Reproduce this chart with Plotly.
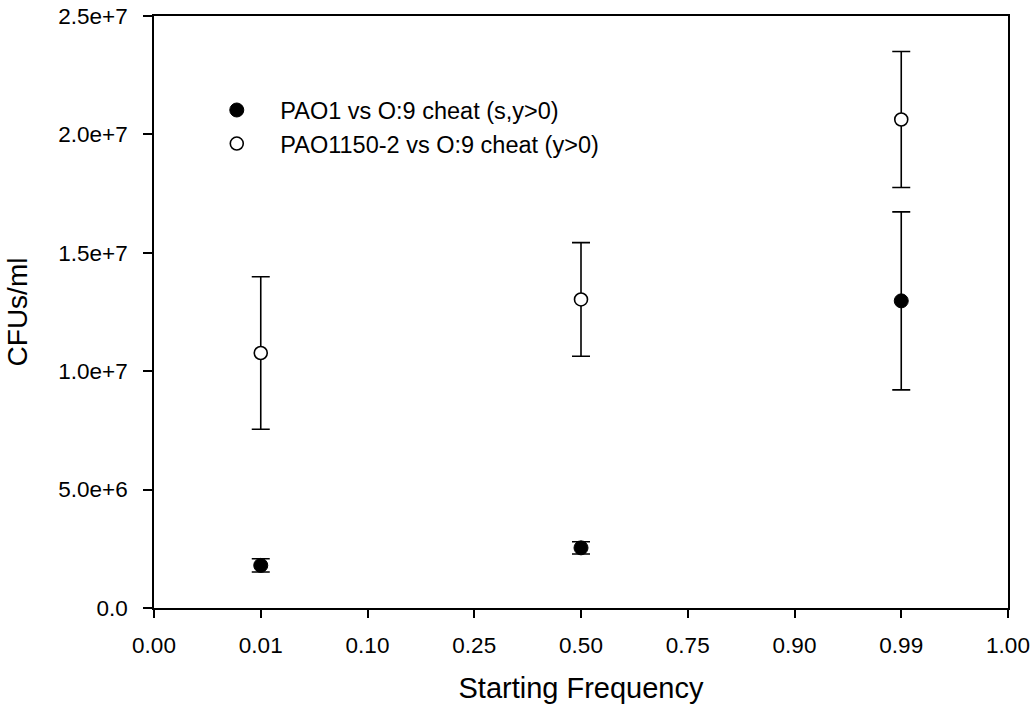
import plotly.graph_objects as go

tick_labels = ["0.00", "0.01", "0.10", "0.25", "0.50", "0.75", "0.90", "0.99", "1.00"]
freqs = ["0.01", "0.50", "0.99"]

pao1_mean = [1.80e6, 2.54e6, 1.297e7]
pao1_err = [2.8e5, 2.6e5, 3.76e6]

pao1150_mean = [1.077e7, 1.303e7, 2.063e7]
pao1150_err = [3.22e6, 2.40e6, 2.87e6]

font_family = "Liberation Sans, Arial, sans-serif"

fig = go.Figure()
fig.add_trace(go.Scatter(
    x=freqs, y=pao1_mean, mode="markers",
    name="PAO1 vs O:9 cheat (s,y>0)",
    marker=dict(symbol="circle", size=14, color="black", line=dict(color="black", width=1)),
    error_y=dict(type="data", array=pao1_err, visible=True, color="black", thickness=1.6, width=9),
))
fig.add_trace(go.Scatter(
    x=freqs, y=pao1150_mean, mode="markers",
    name="PAO1150-2 vs O:9 cheat (y>0)",
    marker=dict(symbol="circle", size=13, color="white", line=dict(color="black", width=1.6)),
    error_y=dict(type="data", array=pao1150_err, visible=True, color="black", thickness=1.6, width=9),
))

fig.update_layout(
    width=1033, height=707,
    margin=dict(l=154, r=25, t=16, b=99, autoexpand=False),
    paper_bgcolor="white", plot_bgcolor="white",
    font=dict(family=font_family, color="black", size=22),
    showlegend=True,
    legend=dict(
        x=0.046, y=0.878, xanchor="left", yanchor="top",
        bgcolor="rgba(0,0,0,0)", borderwidth=0,
        font=dict(size=23.5, family=font_family, color="black"),
        tracegroupgap=0, itemwidth=77,
    ),
)

fig.update_xaxes(
    type="category", categoryorder="array", categoryarray=tick_labels,
    tickvals=tick_labels, ticktext=tick_labels,
    range=[0, 8], showgrid=False, zeroline=False,
    showline=True, linecolor="black", linewidth=1.6, mirror=True,
    ticks="outside", ticklen=8, tickwidth=1.6, tickcolor="black",
    tickfont=dict(size=22.5, family=font_family, color="black"),
    ticklabelstandoff=8,
    title=dict(text="Starting Frequency", font=dict(size=29, family=font_family, color="black"), standoff=21),
    automargin=False,
)
fig.update_yaxes(
    range=[0, 2.5e7], tickvals=[0, 5e6, 1e7, 1.5e7, 2e7, 2.5e7],
    ticktext=["0.0", "5.0e+6", "1.0e+7", "1.5e+7", "2.0e+7", "2.5e+7"],
    showgrid=False, zeroline=False,
    showline=True, linecolor="black", linewidth=1.6, mirror=True,
    ticks="outside", ticklen=9, tickwidth=1.6, tickcolor="black",
    tickfont=dict(size=22.5, family=font_family, color="black"),
    ticklabelstandoff=11,
    title=dict(text="CFUs/ml", font=dict(size=28, family=font_family, color="black"), standoff=22),
    automargin=False,
)

fig.write_html("out.html")
